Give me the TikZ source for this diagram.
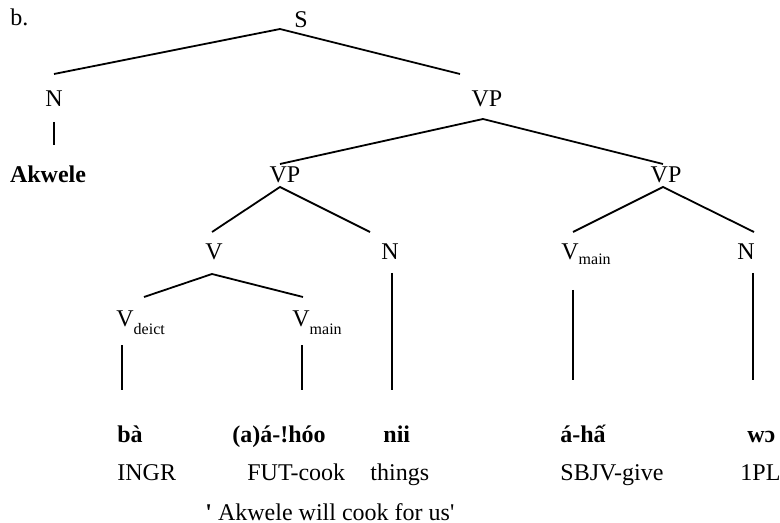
\documentclass[tikz,border=0pt]{standalone}
\usepackage{fontspec}
\setmainfont{Liberation Serif}[Ligatures=TeXOff]
\newcommand\lsub[2]{\raisebox{-#1}{\fontsize{8}{8}\selectfont #2}}
\begin{document}
\begin{tikzpicture}[x=0.5pt,y=-0.5pt,
  lbl/.style={inner sep=0pt,anchor=base,font=\fontsize{12}{14}\selectfont},
  lblw/.style={lbl,anchor=base west},
  wrd/.style={lblw,font=\fontsize{12}{14}\selectfont\bfseries},
  branch/.style={line width=0.9pt}]
\useasboundingbox (0,0) rectangle (780,523);
% labels
\node[lblw] (b) at (10,26) {b.};
\node[lbl] (S) at (301,28) {S};
\node[lbl] (Nt) at (54,107) {N};
\node[lbl] (VPm) at (487,107) {VP};
\node[lbl,font=\fontsize{12}{14}\selectfont\bfseries] (Ak) at (48,183) {Akwele};
\node[lbl] (VPl) at (285,183) {VP};
\node[lbl] (VPr) at (666,183) {VP};
\node[lbl] (V) at (214,260) {V};
\node[lbl] (Nm) at (390,260) {N};
\node[lblw] (Vmr) at (561,260) {V\lsub{2pt}{main}};
\node[lbl] (Nr) at (746,260) {N};
\node[lblw] (Vd) at (116,326) {V\lsub{4pt}{deict}};
\node[lblw] (Vml) at (292,326) {V\lsub{4pt}{main}};
% words
\node[wrd] (w1) at (117,442) {bà};
\node[wrd] (w2) at (232,442) {(a)á-!hóo};
\node[wrd] (w3) at (383,442) {nii};
\node[wrd] (w4) at (560,442) {á-hấ};
\node[wrd] (w5) at (747,442) {wɔ};
% glosses
\node[lblw] (g1) at (117,480) {INGR};
\node[lblw] (g2) at (247,480) {FUT-cook};
\node[lblw] (g3) at (370,480) {things};
\node[lblw] (g4) at (560,480) {SBJV-give};
\node[lblw] (g5) at (740,480) {1PL};
\node[lblw] (tr) at (205,520) {\textbf{'} Akwele will cook for us'};
% branch points
\coordinate (S-a) at (280,29);
\coordinate (Nt-t) at (54,74);
\coordinate (VPm-t) at (460,74);
\coordinate (Nt-b) at (54,122);
\coordinate (Ak-t) at (54,145);
\coordinate (VPm-a) at (483,119);
\coordinate (VPl-t) at (280,164);
\coordinate (VPr-t) at (663,164);
\coordinate (VPl-a) at (280,187);
\coordinate (V-t) at (212,232);
\coordinate (Nm-t) at (370,232);
\coordinate (VPr-a) at (663,187);
\coordinate (Vmr-t) at (573,232);
\coordinate (Nr-t) at (754,232);
\coordinate (V-a) at (212,274);
\coordinate (Vd-t) at (144,297);
\coordinate (Vml-t) at (303,297);
\coordinate (Nm-b) at (392,273);
\coordinate (w3-t) at (392,390);
\coordinate (Vd-b) at (122,345);
\coordinate (w1-t) at (122,390);
\coordinate (Vml-b) at (302,345);
\coordinate (w2-t) at (302,390);
\coordinate (Vmr-b) at (573,290);
\coordinate (w4-t) at (573,380);
\coordinate (Nr-b) at (753,273);
\coordinate (w5-t) at (753,380);
% branches
\draw[branch] (Nt-t) -- (S-a) -- (VPm-t);
\draw[branch] (Nt-b) -- (Ak-t);
\draw[branch] (VPl-t) -- (VPm-a) -- (VPr-t);
\draw[branch] (V-t) -- (VPl-a) -- (Nm-t);
\draw[branch] (Vmr-t) -- (VPr-a) -- (Nr-t);
\draw[branch] (Vd-t) -- (V-a) -- (Vml-t);
\draw[branch] (Nm-b) -- (w3-t);
\draw[branch] (Vd-b) -- (w1-t);
\draw[branch] (Vml-b) -- (w2-t);
\draw[branch] (Vmr-b) -- (w4-t);
\draw[branch] (Nr-b) -- (w5-t);
\end{tikzpicture}
\end{document}
